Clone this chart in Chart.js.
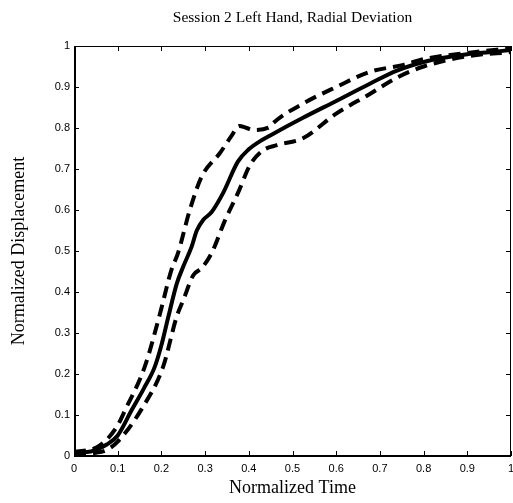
<!DOCTYPE html>
<html>
<head>
<meta charset="utf-8">
<script src="https://cdn.jsdelivr.net/npm/chart.js@4/dist/chart.umd.min.js"></script>
<style>
  html, body { margin: 0; padding: 0; background: #fff; }
  #wrap { width: 513px; height: 503px; position: relative; }
</style>
</head>
<body>
<div id="wrap"><canvas id="chart" width="513" height="503"></canvas></div>
<script>
// values
const titleText = 'Session 2 Left Hand, Radial Deviation'
const xLabel = 'Normalized Time'
const yLabel = 'Normalized Displacement'
const tickValues = [0, 0.1, 0.2, 0.3, 0.4, 0.5, 0.6, 0.7, 0.8, 0.9, 1]

const meanT = [0, 0.03, 0.05, 0.075, 0.1, 0.132, 0.16, 0.185, 0.2, 0.216, 0.235, 0.25, 0.269, 0.281, 0.296, 0.315, 0.341, 0.375, 0.4, 0.426, 0.449, 0.524, 0.6, 0.677, 0.739, 0.8, 0.85, 0.9, 0.95, 1]
const meanY = [0.01, 0.01, 0.015, 0.028, 0.05, 0.112, 0.165, 0.218, 0.27, 0.34, 0.42, 0.462, 0.51, 0.55, 0.576, 0.595, 0.641, 0.718, 0.748, 0.768, 0.782, 0.825, 0.866, 0.908, 0.94, 0.961, 0.972, 0.98, 0.985, 0.99]

const upperT = [0, 0.05, 0.075, 0.1, 0.117, 0.162, 0.195, 0.223, 0.238, 0.265, 0.292, 0.334, 0.36, 0.378, 0.395, 0.41, 0.449, 0.456, 0.525, 0.6, 0.677, 0.754, 0.8, 0.9, 1]
const upperY = [0.01, 0.02, 0.04, 0.075, 0.112, 0.218, 0.34, 0.454, 0.495, 0.6, 0.681, 0.739, 0.78, 0.805, 0.8, 0.795, 0.803, 0.812, 0.86, 0.9, 0.937, 0.954, 0.968, 0.983, 0.995]

const lowerT = [0, 0.05, 0.075, 0.1, 0.155, 0.204, 0.235, 0.25, 0.273, 0.292, 0.315, 0.346, 0.375, 0.403, 0.432, 0.464, 0.524, 0.6, 0.677, 0.739, 0.8, 0.9, 1]
const lowerY = [0.005, 0.008, 0.015, 0.035, 0.115, 0.218, 0.34, 0.38, 0.441, 0.458, 0.495, 0.576, 0.641, 0.71, 0.745, 0.758, 0.775, 0.835, 0.883, 0.923, 0.95, 0.975, 0.985]

const toPoints = (ts, ys) => ts.map((t, i) => ({ x: t, y: ys[i] }))

// box and inward tick marks, like the matlab figure
const boxTicks = {
	id: 'boxTicks',
	afterDraw(chart) {
		const { ctx, chartArea: a, scales } = chart
		ctx.save()
		ctx.strokeStyle = '#000'
		ctx.lineWidth = 1
		tickValues.forEach(v => {
			const px = Math.round(scales.x.getPixelForValue(v)) + 0.5
			const py = Math.round(scales.y.getPixelForValue(v)) + 0.5
			ctx.beginPath()
			ctx.moveTo(px, a.bottom); ctx.lineTo(px, a.bottom - 5)
			ctx.moveTo(px, a.top); ctx.lineTo(px, a.top + 5)
			ctx.moveTo(a.left, py); ctx.lineTo(a.left + 5, py)
			ctx.moveTo(a.right, py); ctx.lineTo(a.right - 5, py)
			ctx.stroke()
		})
		ctx.strokeRect(a.left + 0.5, a.top + 0.5, a.right - a.left - 1, a.bottom - a.top)
		ctx.beginPath()
		ctx.lineWidth = 2
		ctx.moveTo(a.left, a.bottom); ctx.lineTo(a.right, a.bottom)
		ctx.moveTo(a.left + 1, a.top); ctx.lineTo(a.left + 1, a.bottom)
		ctx.stroke()
		ctx.restore()
	}
}

const dash = [12, 7]
const tickFont = { family: 'Liberation Sans', size: 11 }

new Chart(document.getElementById('chart'), {
	type: 'line',
	data: {
		datasets: [
			{ data: toPoints(upperT, upperY), borderColor: '#000', borderWidth: 4, borderDash: dash, pointRadius: 0, cubicInterpolationMode: 'monotone' },
			{ data: toPoints(lowerT, lowerY), borderColor: '#000', borderWidth: 4, borderDash: dash, pointRadius: 0, cubicInterpolationMode: 'monotone' },
			{ data: toPoints(meanT, meanY), borderColor: '#000', borderWidth: 4, pointRadius: 0, cubicInterpolationMode: 'monotone' }
		]
	},
	options: {
		responsive: false,
		animation: false,
		layout: { padding: { top: 46, right: 2, left: 0, bottom: 0 } },
		plugins: {
			legend: { display: false },
			tooltip: { enabled: false },
			title: { display: false }
		},
		scales: {
			x: {
				type: 'linear', min: 0, max: 1,
				afterBuildTicks: s => { s.ticks = tickValues.map(v => ({ value: v })) },
				afterFit: s => { s.height = 47; s.paddingLeft = 0; s.paddingRight = 0 },
				grid: { display: false, drawTicks: false },
				border: { display: false },
				ticks: { color: '#000', padding: 6, maxRotation: 0, autoSkip: false, font: tickFont, callback: v => String(v) },
				title: { display: true, text: xLabel, color: '#000', padding: { top: 9 }, font: { family: 'Liberation Serif', size: 18 } }
			},
			y: {
				type: 'linear', min: 0, max: 1,
				afterBuildTicks: s => { s.ticks = tickValues.map(v => ({ value: v })) },
				afterFit: s => { s.width = 74; s.paddingTop = 0; s.paddingBottom = 0 },
				grid: { display: false, drawTicks: false },
				border: { display: false },
				ticks: { color: '#000', padding: 4, autoSkip: false, font: tickFont, callback: v => String(v) },
				title: { display: true, text: yLabel, color: '#000', padding: { top: 8, bottom: 0 }, font: { family: 'Liberation Serif', size: 18 } }
			}
		}
	},
	plugins: [boxTicks, {
		id: 'topTitle',
		afterDraw(chart) {
			const { ctx, chartArea: a } = chart
			ctx.save()
			ctx.fillStyle = '#000'
			ctx.font = '15.5px "Liberation Serif"'
			ctx.textAlign = 'center'
			ctx.textBaseline = 'middle'
			ctx.fillText(titleText, (a.left + a.right) / 2, 18)
			ctx.restore()
		}
	}]
})
</script>
</body>
</html>
